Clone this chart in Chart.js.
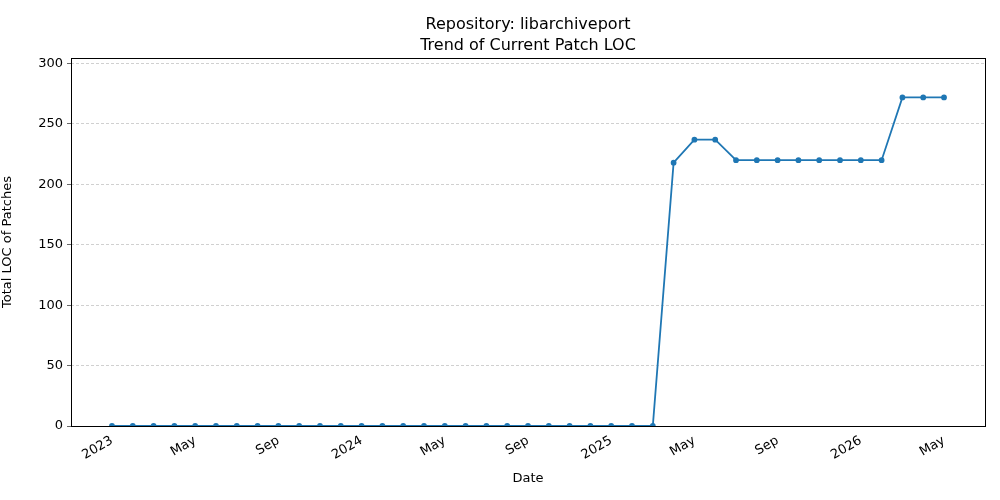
<!DOCTYPE html>
<html>
<head>
<script src="https://cdn.jsdelivr.net/npm/chart.js@4.4.1/dist/chart.umd.min.js"></script>
<style>body{margin:0;background:#fff}</style>
</head>
<body>
<canvas id="c" width="1000" height="500"></canvas>
<script>
// month index 0 = Jan 2023
const monthIdx = [];
for (let i = 0; i <= 40; i++) monthIdx.push(i);
const locValues = [
  0, 0, 0, 0, 0, 0, 0, 0, 0, 0, 0, 0,
  0, 0, 0, 0, 0, 0, 0, 0, 0, 0, 0, 0,
  0, 0, 0, 218, 237, 237, 220, 220, 220, 220, 220, 220,
  220, 220, 272, 272, 272
];
const tickPositions = [0, 4, 8, 12, 16, 20, 24, 28, 32, 36, 40];
const tickLabels = ['2023', 'May', 'Sep', '2024', 'May', 'Sep', '2025', 'May', 'Sep', '2026', 'May'];

const FONT = 'DejaVu Sans';

const frame = {
  id: 'frame',
  afterDraw(chart) {
    const {ctx, chartArea: a} = chart;
    ctx.save();
    ctx.strokeStyle = '#000';
    ctx.lineWidth = 1;
    ctx.strokeRect(a.left + 0.5, a.top + 0.5, a.right - a.left, a.bottom - a.top);
    ctx.fillStyle = '#000';
    ctx.textAlign = 'center';
    ctx.font = '16px ' + FONT;
    ctx.fillText('Repository: libarchiveport', 528, 29);
    ctx.fillText('Trend of Current Patch LOC', 528, 50);
    ctx.restore();
  }
};

new Chart(document.getElementById('c'), {
  type: 'line',
  data: {
    datasets: [{
      data: monthIdx.map((m, i) => ({x: m, y: locValues[i]})),
      borderColor: '#1f77b4',
      backgroundColor: '#1f77b4',
      borderWidth: 1.8,
      pointRadius: 2,
      pointHoverRadius: 2,
      tension: 0
    }]
  },
  options: {
    responsive: false,
    animation: false,
    layout: {padding: {top: 58, right: 15, left: 0, bottom: 0}},
    plugins: {legend: {display: false}, tooltip: {enabled: false}},
    scales: {
      x: {
        type: 'linear',
        min: -1.97,
        max: 41.97,
        afterBuildTicks: s => { s.ticks = tickPositions.map(v => ({value: v})); },
        afterFit: s => { s.height = 74; },
        grid: {display: false, drawTicks: true, tickLength: 4},
        border: {display: false},
        ticks: {
          autoSkip: false,
          minRotation: 30,
          maxRotation: 30,
          color: '#000',
          font: {family: FONT, size: 13},
          callback: (v) => tickLabels[tickPositions.indexOf(v)]
        },
        title: {display: true, text: 'Date', color: '#000', font: {family: FONT, size: 13}, padding: {top: 0, bottom: 14}}
      },
      y: {
        min: 0,
        max: 304.6,
        afterBuildTicks: s => { s.ticks = [0, 50, 100, 150, 200, 250, 300].map(v => ({value: v})); },
        afterFit: s => { s.width = 71; },
        grid: {color: '#b0b0b0', lineWidth: 0.6, tickLength: 4, tickColor: '#000'},
        border: {display: false, dash: [3, 2]},
        ticks: {color: '#000', font: {family: FONT, size: 13}, padding: 4},
        title: {display: true, text: 'Total LOC of Patches', color: '#000', font: {family: FONT, size: 13}, padding: {top: 0, bottom: 6}}
      }
    }
  },
  plugins: [frame]
});
</script>
</body>
</html>
